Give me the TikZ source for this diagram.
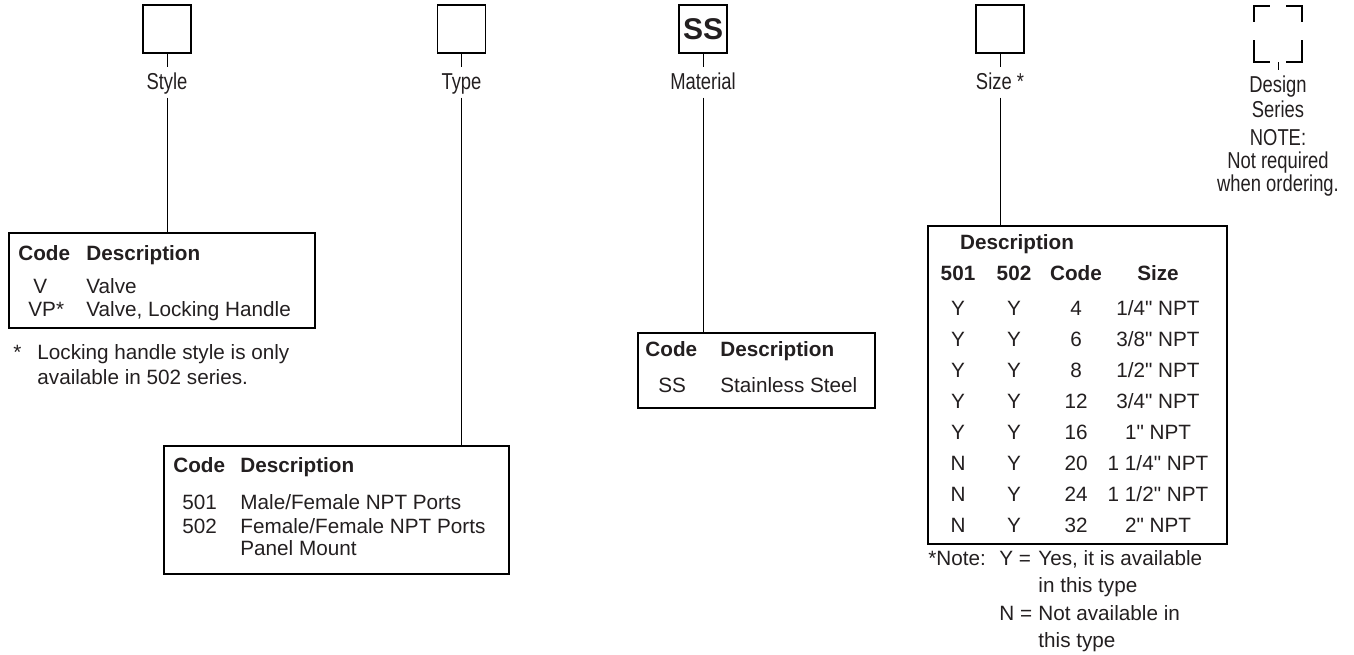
\documentclass[tikz,border=0pt]{standalone}
\usepackage{fontspec}
\setmainfont{Liberation Sans}[Ligatures=TeXOff]
\newfontfamily\narrowfont[FakeStretch=0.8]{Liberation Sans}
\definecolor{ink}{HTML}{231F20}
\tikzset{
  codebox/.style={draw=black, line width=0.85pt, minimum size=24pt, inner sep=0pt},
  tablebox/.style={draw=black, line width=0.75pt, inner sep=0pt, anchor=north west},
  partname/.style={font=\narrowfont\fontsize{11.5}{14}\selectfont, inner sep=0pt, text height=8.2pt, text depth=0pt},
  notetext/.style={font=\narrowfont\fontsize{11.5}{12}\selectfont, inner sep=0pt, align=center, anchor=north},
  cell/.style={font=\fontsize{10.35}{12}\selectfont, inner sep=0pt, text height=7.4pt, text depth=0pt},
  cellw/.style={cell, anchor=west},
  head/.style={cell, font=\fontsize{10.35}{12}\selectfont\bfseries},
  headw/.style={head, anchor=west},
  stub/.style={line width=0.5pt, shorten >=2.5pt},
  leader/.style={line width=0.5pt, shorten <=4pt},
  bracket/.style={line width=1pt, line join=miter}
}
\begin{document}
\begin{tikzpicture}[x=0.5pt, y=-0.5pt, text=ink]
  \useasboundingbox (0,0) rectangle (1354,654);

  % part number boxes
  \node[codebox] (sbox) at (167,29) {};
  \node[codebox] (tbox) at (461.5,29) {};
  \node[codebox, font=\fontsize{15}{18}\selectfont\bfseries] (mbox) at (703,29) {SS};
  \node[codebox] (zbox) at (1000,29) {};
  \node[minimum width=24pt, minimum height=28pt, inner sep=0pt] (dbox) at (1278,34) {};
  \draw[bracket] ([yshift=-8pt]dbox.north west) -- (dbox.north west) -- ([xshift=8pt]dbox.north west);
  \draw[bracket] ([yshift=-8pt]dbox.north east) -- (dbox.north east) -- ([xshift=-8pt]dbox.north east);
  \draw[bracket] ([yshift=11pt]dbox.south west) -- (dbox.south west) -- ([xshift=8pt]dbox.south west);
  \draw[bracket] ([yshift=11pt]dbox.south east) -- (dbox.south east) -- ([xshift=-8pt]dbox.south east);

  \node[partname] (slbl) at (167,81) {Style};
  \node[partname] (tlbl) at (461.5,81) {Type};
  \node[partname] (mlbl) at (703,81) {Material};
  \node[partname] (zlbl) at (1000,81) {Size *};
  \node[notetext, align=center] (dlbl) at (1278,75) {Design\\[0.5pt]Series};
  \node[notetext] (dnote) at (1278,129) {NOTE:\\[-0.5pt]Not required\\[-0.5pt]when ordering.};

  \draw[stub] (sbox) -- (slbl);
  \draw[stub] (tbox) -- (tlbl);
  \draw[stub] (mbox) -- (mlbl);
  \draw[stub] (zbox) -- (zlbl);
  \draw[stub] (dbox.south) -- (dlbl.north);

  % style table
  \node[tablebox, minimum width=153pt, minimum height=47.5pt] (stab) at (8,232) {};
  \node[headw] (sh1) at (18,253) {Code};
  \node[headw] (sh2) at (86,253) {Description};
  \node[cellw] (sc1) at (33,286) {V};
  \node[cellw] (sd1) at (86,286) {Valve};
  \node[cellw] (sc2) at (28,309) {VP*};
  \node[cellw] (sd2) at (86,309) {Valve, Locking Handle};
  \node[cellw] (sn0) at (13,352) {*};
  \node[cellw] (sn1) at (37,352) {Locking handle style is only};
  \node[cellw] (sn2) at (37,377) {available in 502 series.};

  % type table
  \node[tablebox, minimum width=172.5pt, minimum height=64pt] (ttab) at (163,445) {};
  \node[headw] (th1) at (173,465) {Code};
  \node[headw] (th2) at (240,465) {Description};
  \node[cellw] (tc1) at (182,502) {501};
  \node[cellw] (td1) at (240,502) {Male/Female NPT Ports};
  \node[cellw] (tc2) at (182,526) {502};
  \node[cellw] (td2) at (240,526) {Female/Female NPT Ports};
  \node[cellw] (td3) at (240,548) {Panel Mount};

  % material table
  \node[tablebox, minimum width=118.5pt, minimum height=37.5pt] (mtab) at (637,332) {};
  \node[headw] (mh1) at (645,349) {Code};
  \node[headw] (mh2) at (720,349) {Description};
  \node[cellw] (mc1) at (658,385) {SS};
  \node[cellw] (md1) at (720,385) {Stainless Steel};

  % size table
  \node[tablebox, minimum width=149.5pt, minimum height=159pt] (ztab) at (927,225) {};
  \node[head] (zh0) at (1017,242) {Description};
  \node[head] (zh1) at (958,273) {501};
  \node[head] (zh2) at (1014,273) {502};
  \node[head] (zh3) at (1076,273) {Code};
  \node[head] (zh4) at (1158,273) {Size};
  \foreach \a/\b/\c/\d [count=\i from 0] in
      {Y/Y/4/{1/4" NPT}, Y/Y/6/{3/8" NPT}, Y/Y/8/{1/2" NPT}, Y/Y/12/{3/4" NPT},
       Y/Y/16/{1" NPT}, N/Y/20/{1 1/4" NPT}, N/Y/24/{1 1/2" NPT}, N/Y/32/{2" NPT}} {
    \node[cell] (za\i) at (958,{308+31*\i}) {\a};
    \node[cell] (zb\i) at (1014,{308+31*\i}) {\b};
    \node[cell] (zc\i) at (1076,{308+31*\i}) {\c};
    \node[cell] (zd\i) at (1158,{308+31*\i}) {\d};
  }
  \node[cellw] (zn0) at (928,558) {*Note:};
  \node[cellw] (zn1) at (999,558) {Y =};
  \node[cellw] (zn2) at (1038,558) {Yes, it is available};
  \node[cellw] (zn3) at (1038,585) {in this type};
  \node[cellw] (zn4) at (999,613) {N =};
  \node[cellw] (zn5) at (1038,613) {Not available in};
  \node[cellw] (zn6) at (1038,640) {this type};

  % leaders down to the tables
  \draw[leader] (slbl.south) -- (slbl.south |- stab.north);
  \draw[leader] (tlbl.south) -- (tlbl.south |- ttab.north);
  \draw[leader] (mlbl.south) -- (mlbl.south |- mtab.north);
  \draw[leader] (zlbl.south) -- (zlbl.south |- ztab.north);
\end{tikzpicture}
\end{document}
